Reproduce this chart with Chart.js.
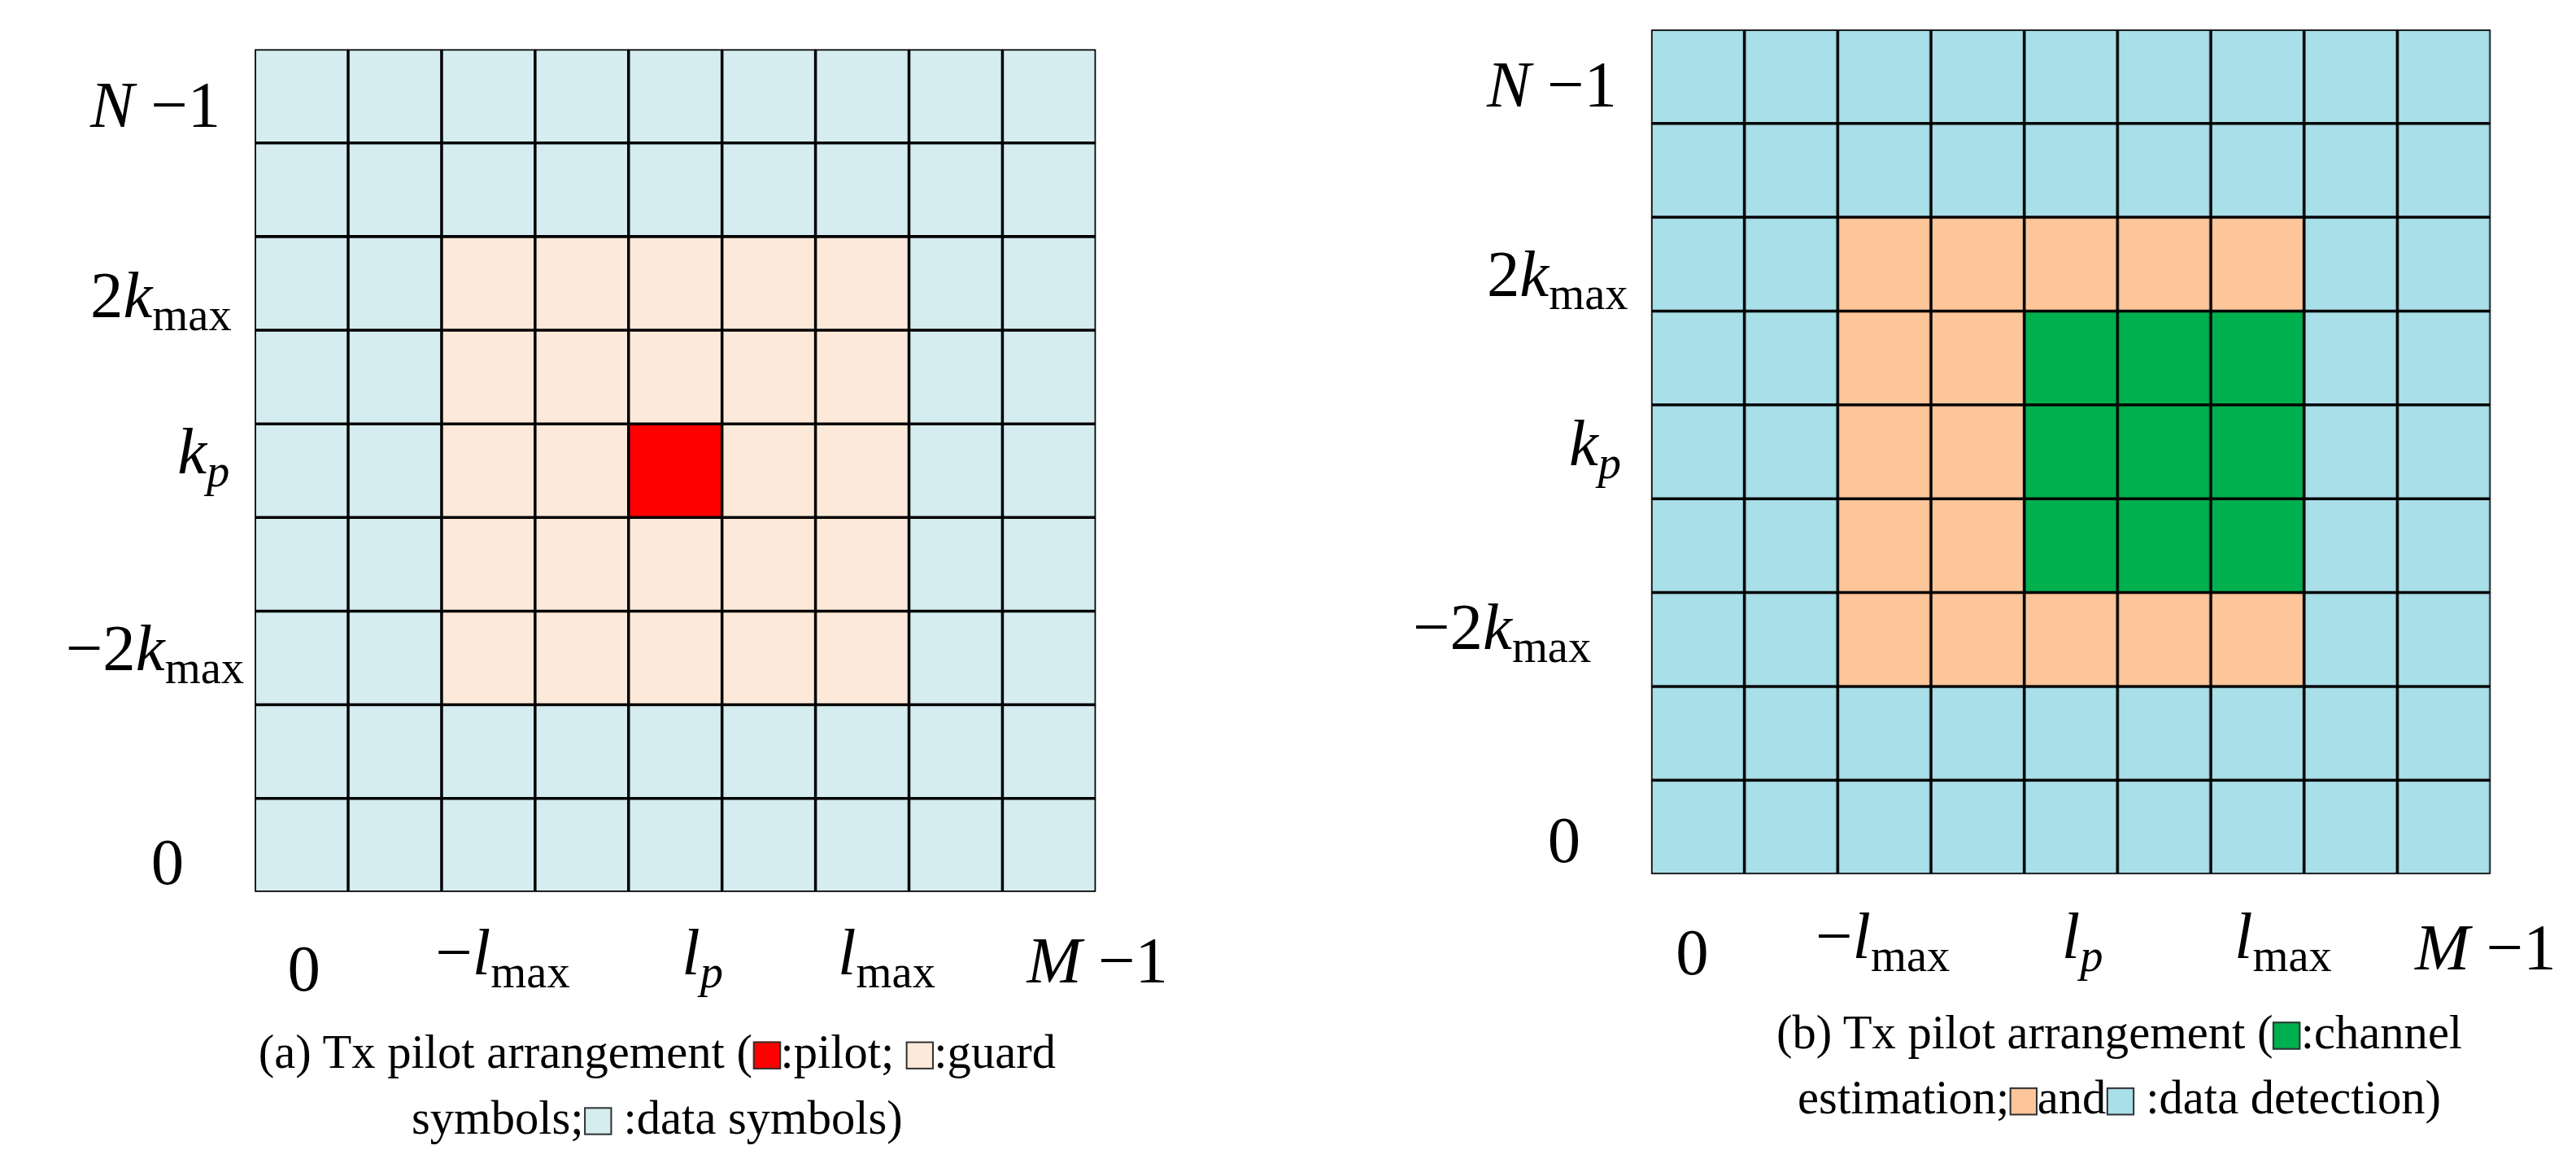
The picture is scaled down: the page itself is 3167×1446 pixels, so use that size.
<!DOCTYPE html><html><head><meta charset="utf-8">
<script src="https://cdn.jsdelivr.net/npm/chart.js@4"></script>
<style>
body{margin:0;background:#fff;width:3167px;height:1446px;position:relative;font-family:"Liberation Serif",serif;overflow:hidden}
#w{position:absolute;left:0;top:0;width:1568px;height:716px;transform:scale(2.0198);transform-origin:0 0}
canvas{position:absolute}
.t{position:absolute;font-size:40px;white-space:nowrap;line-height:1}
.t i{font-style:italic}.t sub{font-size:28px;vertical-align:-8px;font-style:normal}
.c{position:absolute;font-size:29px;text-align:center;white-space:nowrap;line-height:1}
.sq{display:inline-block;width:15px;height:15px;border:1px solid #333;vertical-align:-1px}
</style></head><body><div id="w">
<div style="position:absolute;left:0;top:0;width:800px;height:560px"><canvas id="a"></canvas></div>
<div style="position:absolute;left:850px;top:0;width:800px;height:560px"><canvas id="b"></canvas></div>
<div class="t" style="left:55px;top:44px"><i>N</i> −1</div>
<div class="t" style="left:55px;top:160px">2<i>k</i><sub>max</sub></div>
<div class="t" style="left:108px;top:255px"><i>k<sub style="font-style:italic">p</sub></i></div>
<div class="t" style="left:40px;top:375px">−2<i>k</i><sub>max</sub></div>
<div class="t" style="left:92px;top:505px">0</div>
<div class="t" style="left:175px;top:570px">0</div>
<div class="t" style="left:265px;top:560px">−<i>l</i><sub>max</sub></div>
<div class="t" style="left:415px;top:560px"><i>l<sub style="font-style:italic">p</sub></i></div>
<div class="t" style="left:510px;top:560px"><i>l</i><sub>max</sub></div>
<div class="t" style="left:625px;top:565px"><i>M</i> −1</div>
<div class="c" style="left:400px;top:626px;transform:translateX(-50%)">(a) Tx pilot arrangement (<span class="sq" style="background:#ff0000"></span>:pilot; <span class="sq" style="background:#fde9d9"></span>:guard</div>
<div class="c" style="left:400px;top:666px;transform:translateX(-50%)">symbols;<span class="sq" style="background:#d5ecf0"></span> :data symbols)</div>
<div class="t" style="left:905px;top:32px"><i>N</i> −1</div>
<div class="t" style="left:905px;top:147px">2<i>k</i><sub>max</sub></div>
<div class="t" style="left:955px;top:250px"><i>k<sub style="font-style:italic">p</sub></i></div>
<div class="t" style="left:860px;top:362px">−2<i>k</i><sub>max</sub></div>
<div class="t" style="left:942px;top:492px">0</div>
<div class="t" style="left:1020px;top:560px">0</div>
<div class="t" style="left:1105px;top:550px">−<i>l</i><sub>max</sub></div>
<div class="t" style="left:1255px;top:550px"><i>l<sub style="font-style:italic">p</sub></i></div>
<div class="t" style="left:1360px;top:550px"><i>l</i><sub>max</sub></div>
<div class="t" style="left:1470px;top:557px"><i>M</i> −1</div>
<div class="c" style="left:1290px;top:614px;transform:translateX(-50%)">(b) Tx pilot arrangement (<span class="sq" style="background:#00b04f"></span>:channel</div>
<div class="c" style="left:1290px;top:654px;transform:translateX(-50%)">estimation;<span class="sq" style="background:#fcc59a"></span>and<span class="sq" style="background:#a9dfe8"></span> :data detection)</div>
</div>
<script>
const columns=['0','1','2','3','4','5','6','7','8'];
const cellValues=[1,1,1,1,1,1,1,1,1];
// rows listed top to bottom
const gridA=['ddddddddd','ddddddddd','ddgggggdd','ddgggggdd','ddggpggdd','ddgggggdd','ddgggggdd','ddddddddd','ddddddddd'];
const gridB=['ddddddddd','ddddddddd','ddooooodd','ddoocccdd','ddoocccdd','ddoocccdd','ddooooodd','ddddddddd','ddddddddd'];
const colA={d:'#d5ecf0',g:'#fde9d9',p:'#ff0000'};
const colB={d:'#a9dfe8',o:'#fcc59a',c:'#00b04f'};
function make(id,grid,cols,pad){
  const ds=grid.slice().reverse().map(r=>({data:cellValues,backgroundColor:r.split('').map(ch=>cols[ch]),borderColor:'#000',borderWidth:1.2,barPercentage:1,categoryPercentage:1,borderSkipped:false}));
  new Chart(document.getElementById(id),{type:'bar',data:{labels:columns,datasets:ds},
  options:{responsive:true,maintainAspectRatio:false,animation:false,devicePixelRatio:2.02,layout:{padding:pad},
  plugins:{legend:{display:false},tooltip:{enabled:false}},
  scales:{x:{stacked:true,display:false},y:{stacked:true,display:false,min:0,max:9}}}});
}
make('a',gridA,colA,{left:155,top:30,right:133,bottom:17});
make('b',gridB,colB,{left:155,top:18,right:134,bottom:28});
</script></body></html>
